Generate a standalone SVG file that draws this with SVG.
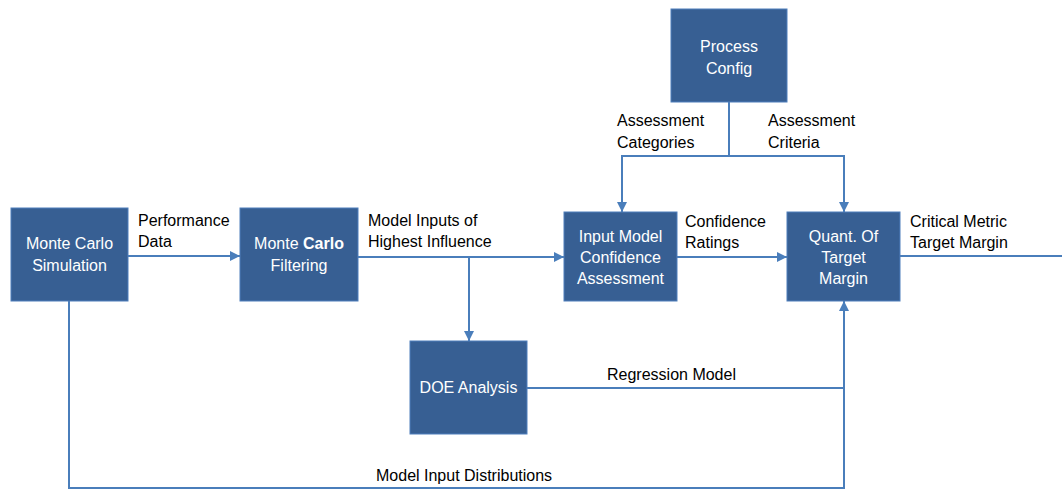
<svg xmlns="http://www.w3.org/2000/svg" width="1062" height="489" viewBox="0 0 1062 489">
<style>
.box{fill:#375F93;stroke:#4F7FBC;stroke-width:1}
.bt{font-family:"Liberation Sans",Arial,sans-serif;font-size:16px;fill:#ffffff;text-anchor:middle}
.lt{font-family:"Liberation Sans",Arial,sans-serif;font-size:16px;fill:#000000}
.c{fill:none;stroke:#4A7EBB;stroke-width:2}
</style>
<defs>
<marker id="arr" viewBox="0 0 10 10" refX="10" refY="5" markerWidth="5" markerHeight="5" orient="auto" markerUnits="strokeWidth">
<path d="M0,0 L10,5 L0,10 z" fill="#4A7EBB"/>
</marker>
</defs>
<rect width="1062" height="489" fill="#ffffff"/>
<g id="connectors">
<line class="c" x1="128" y1="256" x2="240" y2="256" marker-end="url(#arr)"/>
<line class="c" x1="358" y1="257" x2="564" y2="257" marker-end="url(#arr)"/>
<line class="c" x1="469" y1="257" x2="469" y2="341" marker-end="url(#arr)"/>
<line class="c" x1="677" y1="257" x2="787" y2="257" marker-end="url(#arr)"/>
<line class="c" x1="900" y1="256" x2="1062" y2="256"/>
<line class="c" x1="729" y1="102" x2="729" y2="156"/>
<polyline class="c" points="729,156 622,156 622,212" marker-end="url(#arr)"/>
<polyline class="c" points="729,156 844,156 844,212" marker-end="url(#arr)"/>
<polyline class="c" points="527,388 844,388"/>
<polyline class="c" points="69,301 69,488 844,488 844,301" marker-end="url(#arr)"/>
</g>
<g id="mc-simulation">
<rect class="box" x="11" y="208" width="117" height="93"/>
<text class="bt" x="69.5" y="249">Monte Carlo</text>
<text class="bt" x="69.5" y="271">Simulation</text>
</g>
<g id="mc-filtering">
<rect class="box" x="240" y="208" width="118" height="93"/>
<text class="bt" x="299" y="249">Monte <tspan font-weight="bold">Carlo</tspan></text>
<text class="bt" x="299" y="271">Filtering</text>
</g>
<g id="input-model-confidence">
<rect class="box" x="564" y="212" width="113" height="89"/>
<text class="bt" x="620.5" y="242">Input Model</text>
<text class="bt" x="620.5" y="263">Confidence</text>
<text class="bt" x="620.5" y="284">Assessment</text>
</g>
<g id="quant-target-margin">
<rect class="box" x="787" y="212" width="113" height="89"/>
<text class="bt" x="843.5" y="242">Quant. Of</text>
<text class="bt" x="843.5" y="263">Target</text>
<text class="bt" x="843.5" y="284">Margin</text>
</g>
<g id="doe-analysis">
<rect class="box" x="410" y="341" width="117" height="93"/>
<text class="bt" x="468.5" y="393">DOE Analysis</text>
</g>
<g id="process-config">
<rect class="box" x="671" y="9" width="116" height="93"/>
<text class="bt" x="729" y="52">Process</text>
<text class="bt" x="729" y="74">Config</text>
</g>
<g id="labels">
<text class="lt" x="138" y="226">Performance</text>
<text class="lt" x="138" y="247">Data</text>
<text class="lt" x="368" y="226">Model Inputs of</text>
<text class="lt" x="368" y="247">Highest Influence</text>
<text class="lt" x="685" y="227">Confidence</text>
<text class="lt" x="685" y="248">Ratings</text>
<text class="lt" x="910" y="227">Critical Metric</text>
<text class="lt" x="910" y="248">Target Margin</text>
<text class="lt" x="617" y="126">Assessment</text>
<text class="lt" x="617" y="148">Categories</text>
<text class="lt" x="768" y="126">Assessment</text>
<text class="lt" x="768" y="148">Criteria</text>
<text class="lt" x="607" y="380">Regression Model</text>
<text class="lt" x="376" y="481">Model Input Distributions</text>
</g>
</svg>
